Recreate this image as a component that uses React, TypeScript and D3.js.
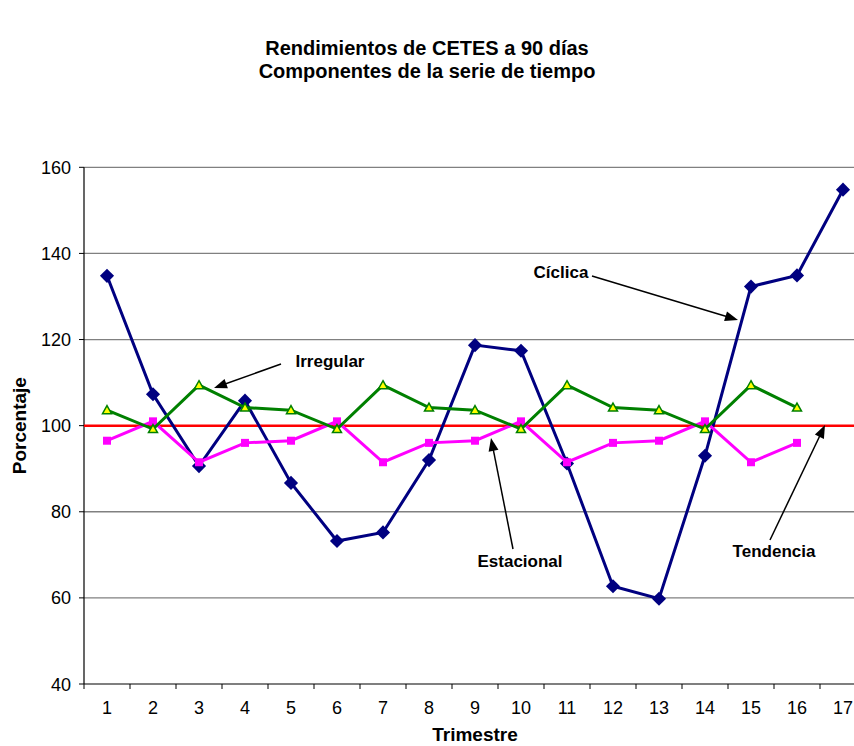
import React from "react";
import * as d3 from "d3";

const trimestres = ["1","2","3","4","5","6","7","8","9","10","11","12","13","14","15","16","17"];
const ciclica = [134.8, 107.3, 90.6, 105.8, 86.7, 73.2, 75.2, 92.0, 118.7, 117.4, 91.2, 62.7, 59.8, 93.0, 132.3, 134.9, 154.8];
const estacional = [96.5, 101.0, 91.5, 96.0, 96.5, 101.0, 91.5, 96.0, 96.5, 101.0, 91.5, 96.0, 96.5, 101.0, 91.5, 96.0];
const irregular = [103.6, 99.2, 109.4, 104.2, 103.6, 99.2, 109.4, 104.2, 103.6, 99.2, 109.4, 104.2, 103.6, 99.2, 109.4, 104.2];
const tendencia = 100;
const yTicks = [40, 60, 80, 100, 120, 140, 160];

const W = 854, H = 746;
const left = 84, right = 866, top = 167.3, bottom = 684;

const annotations = [
  { text: "Cíclica", tx: 561, ty: 278, x1: 592, y1: 276, x2: 738, y2: 320 },
  { text: "Irregular", tx: 330, ty: 367, x1: 281, y1: 364, x2: 214, y2: 388 },
  { text: "Estacional", tx: 520, ty: 567, x1: 513, y1: 549, x2: 491, y2: 438 },
  { text: "Tendencia", tx: 774, ty: 557, x1: 770, y1: 540, x2: 825, y2: 425 },
];

export default function App() {
  const x = d3.scaleBand<string>().domain(trimestres).range([left, right]).padding(0);
  const y = d3.scaleLinear().domain([40, 160]).range([bottom, top]);
  const cx = (i: number) => (x(trimestres[i]) as number) + x.bandwidth() / 2;
  const line = d3.line<number>().x((_, i) => cx(i)).y((d) => y(d));
  const font = "'Liberation Sans', Arial, sans-serif";

  const arrowHead = (x1: number, y1: number, x2: number, y2: number) => {
    const a = Math.atan2(y2 - y1, x2 - x1);
    const L = 13, w = 5;
    const bx = x2 - L * Math.cos(a), by = y2 - L * Math.sin(a);
    const px = -Math.sin(a) * w, py = Math.cos(a) * w;
    return `M${x2},${y2}L${bx + px},${by + py}L${bx - px},${by - py}Z`;
  };

  return (
    <svg width={W} height={H} style={{ position: "absolute", left: 0, top: 0, background: "#fff" }} fontFamily={font}>
      <text x={427} y={55} textAnchor="middle" fontSize={20} fontWeight="bold">Rendimientos de CETES a 90 días</text>
      <text x={427} y={78} textAnchor="middle" fontSize={20} fontWeight="bold">Componentes de la serie de tiempo</text>

      {yTicks.filter((t) => t !== 40).map((t) => (
        <line key={t} x1={left} x2={right} y1={y(t)} y2={y(t)} stroke="#808080" strokeWidth={1.3} />
      ))}
      {yTicks.map((t) => (
        <g key={"yt" + t}>
          <line x1={left - 5} x2={left} y1={y(t)} y2={y(t)} stroke="#000" />
          <text x={left - 13} y={y(t) + 6.5} textAnchor="end" fontSize={18}>{t}</text>
        </g>
      ))}
      <line x1={left} x2={left} y1={top} y2={bottom} stroke="#000" strokeWidth={1.2} />
      <line x1={left} x2={right} y1={bottom} y2={bottom} stroke="#000" strokeWidth={1.2} />
      {trimestres.map((t, i) => (
        <g key={"xt" + t}>
          <line x1={x(t) as number} x2={x(t) as number} y1={bottom} y2={bottom + 5} stroke="#000" />
          <text x={cx(i)} y={bottom + 30} textAnchor="middle" fontSize={18}>{t}</text>
        </g>
      ))}
      <text x={(left + right) / 2} y={741} textAnchor="middle" fontSize={19} fontWeight="bold">Trimestre</text>
      <text transform={`translate(26,${(top + bottom) / 2}) rotate(-90)`} textAnchor="middle" fontSize={19} fontWeight="bold">Porcentaje</text>

      <line x1={left} x2={right} y1={y(tendencia)} y2={y(tendencia)} stroke="#FF0000" strokeWidth={2.5} />

      <path d={line(ciclica) || ""} fill="none" stroke="#000080" strokeWidth={3} />
      {ciclica.map((v, i) => (
        <rect key={"c" + i} x={cx(i) - 5} y={y(v) - 5} width={10} height={10} fill="#000080" transform={`rotate(45,${cx(i)},${y(v)})`} />
      ))}

      <path d={line(estacional) || ""} fill="none" stroke="#FF00FF" strokeWidth={3} />
      {estacional.map((v, i) => (
        <rect key={"e" + i} x={cx(i) - 4} y={y(v) - 4} width={8} height={8} fill="#FF00FF" />
      ))}

      <path d={line(irregular) || ""} fill="none" stroke="#008000" strokeWidth={3} />
      {irregular.map((v, i) => (
        <path key={"i" + i} d={`M${cx(i)},${y(v) - 4.5}L${cx(i) + 4.5},${y(v) + 3.5}L${cx(i) - 4.5},${y(v) + 3.5}Z`} fill="#FFFF00" stroke="#008000" strokeWidth={1.5} />
      ))}

      {annotations.map((a) => (
        <g key={a.text}>
          <line x1={a.x1} y1={a.y1} x2={a.x2 - (a.x2 - a.x1) * 0.05} y2={a.y2 - (a.y2 - a.y1) * 0.05} stroke="#000" strokeWidth={1.5} />
          <path d={arrowHead(a.x1, a.y1, a.x2, a.y2)} fill="#000" />
          <text x={a.tx} y={a.ty} textAnchor="middle" fontSize={17} fontWeight="bold">{a.text}</text>
        </g>
      ))}
    </svg>
  );
}
